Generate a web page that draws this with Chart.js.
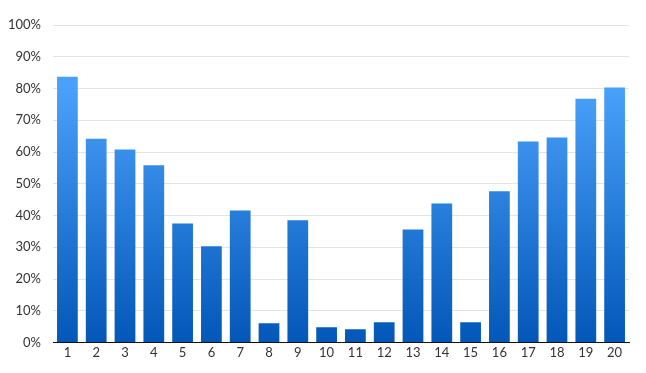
<!DOCTYPE html>
<html>
<head>
<meta charset="utf-8">
<script src="https://cdn.jsdelivr.net/npm/chart.js@4/dist/chart.umd.min.js"></script>
<style>
html,body{margin:0;padding:0;background:#fff;}
#wrap{width:646px;height:373px;}
</style>
</head>
<body>
<div id="wrap"><canvas id="c" width="646" height="373"></canvas></div>
<script>
const categories = ["1","2","3","4","5","6","7","8","9","10","11","12","13","14","15","16","17","18","19","20"];
const values = [83.7, 64.2, 60.8, 55.8, 37.5, 30.3, 41.6, 6.1, 38.5, 4.8, 4.2, 6.4, 35.6, 43.8, 6.4, 47.6, 63.3, 64.6, 76.8, 80.3];
const yMin = 0, yMax = 100, yStep = 10;

const FONT = 'Lato, "Noto Sans", sans-serif';

const gradientPlugin = {
  id: 'barGradient',
  beforeDatasetDraw(chart, args) {
    const meta = args.meta;
    const c = chart.ctx;
    meta.data.forEach(el => {
      const top = Math.min(el.y, el.base), bottom = Math.max(el.y, el.base);
      const g = c.createLinearGradient(0, top, 0, bottom);
      g.addColorStop(0, '#4aa1fa');
      g.addColorStop(1, '#0257b8');
      el.options.backgroundColor = g;
    });
  }
};

new Chart(document.getElementById('c'), {
  type: 'bar',
  data: {
    labels: categories,
    datasets: [{
      data: values,
      backgroundColor: '#2a7fe0',
      borderWidth: 0,
      categoryPercentage: 1,
      barPercentage: 0.72
    }]
  },
  options: {
    responsive: false,
    animation: false,
    devicePixelRatio: 1,
    layout: { padding: { left: 0, right: 17, top: 25, bottom: 0 } },
    plugins: { legend: { display: false }, tooltip: { enabled: false } },
    scales: {
      x: {
        grid: { display: false, drawTicks: false },
        border: { display: true, color: '#111', width: 1 },
        ticks: { color: '#333', font: { family: FONT, size: 13 }, padding: 3, maxRotation: 0 },
        afterFit: s => { s.height = 30.5; }
      },
      y: {
        min: yMin, max: yMax,
        grid: { color: '#e3e3e3', lineWidth: 1, drawTicks: false },
        border: { display: false },
        ticks: {
          stepSize: yStep,
          color: '#333',
          font: { family: FONT, size: 13 },
          padding: 12,
          callback: v => v + '%'
        },
        afterFit: s => { s.width = 53; }
      }
    }
  },
  plugins: [gradientPlugin]
});
</script>
</body>
</html>
